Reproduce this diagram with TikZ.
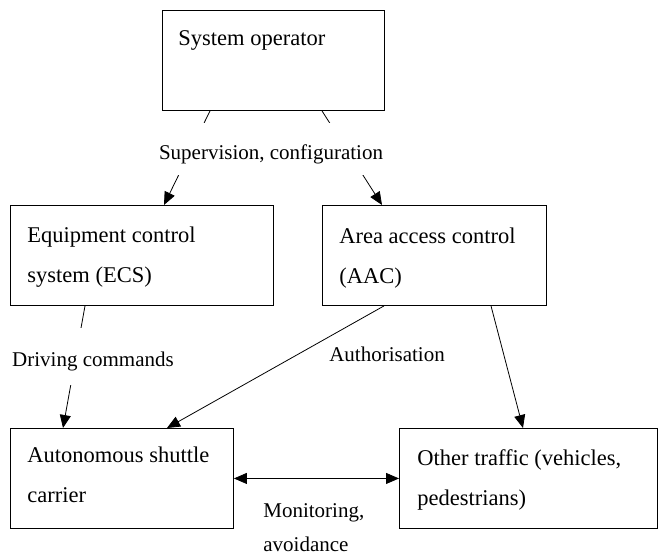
\documentclass[tikz,border=0pt]{standalone}
\usepackage{fontspec}
\setmainfont{Liberation Serif}
\usetikzlibrary{arrows.meta,positioning}

\tikzset{
  box/.style={draw, rectangle, line width=0.9pt, minimum width=#1, minimum height=100pt, anchor=north west, inner sep=0pt},
  boxtext/.style={anchor=base west, align=left, inner sep=0pt, font=\fontsize{22.5}{40}\selectfont},
  lbl/.style={anchor=base, inner sep=0pt, font=\fontsize{21}{34}\selectfont}
}

\begin{document}
\begin{tikzpicture}[x=1pt, y=-1pt, line width=0.8pt, >={Triangle[length=13pt,width=11pt]}]
\useasboundingbox (0,0) rectangle (658,556);

% Kaesten
\node[box=222pt] (sysop) at (162,10) {};
\node[box=263pt] (ecs) at (10,205) {};
\node[box=224pt] (aac) at (322,205) {};
\node[box=223pt] (shuttle) at (10,428) {};
\node[box=258pt] (traffic) at (399,428) {};

% Text in den Kaesten (base = letzte Zeile)
\node[boxtext] (sysoptext) at ([xshift=16pt, yshift=-36pt]sysop.north west) {System operator};
\node[boxtext] (ecstext) at ([xshift=17pt, yshift=-77pt]ecs.north west) {Equipment control\\system (ECS)};
\node[boxtext] (aactext) at ([xshift=17pt, yshift=-78pt]aac.north west) {Area access control\\(AAC)};
\node[boxtext] (shuttletext) at ([xshift=17pt, yshift=-74pt]shuttle.north west) {Autonomous shuttle\\carrier};
\node[boxtext] (traffictext) at ([xshift=18pt, yshift=-77pt]traffic.north west) {Other traffic (vehicles,\\pedestrians)};

% Verbindungen
\draw[->] ([xshift=48pt]sysop.south west) -- ([xshift=154pt]ecs.north west);
\draw[->] ([xshift=160pt]sysop.south west) -- ([xshift=60pt]aac.north west);
\draw[->] ([xshift=75pt]ecs.south west) -- ([xshift=53pt]shuttle.north west);
\draw[->] ([xshift=62pt]aac.south west) -- ([xshift=157pt]shuttle.north west);
\draw[->] ([xshift=169pt]aac.south west) -- ([xshift=124pt]traffic.north west);
\draw[<->] (shuttle) -- (traffic);

% Beschriftungen
\node[lbl, fill=white, text height=37pt, text depth=15pt] (superv) at (271,160) {Supervision, configuration};
\node[lbl, fill=white, text height=38pt, text depth=19pt] (drive) at (93,366) {Driving commands};
\node[lbl] (auth) at (387,361) {Authorisation};
\node[lbl, anchor=base west, align=left] (monit) at (263,551) {Monitoring,\\avoidance};
\end{tikzpicture}
\end{document}
